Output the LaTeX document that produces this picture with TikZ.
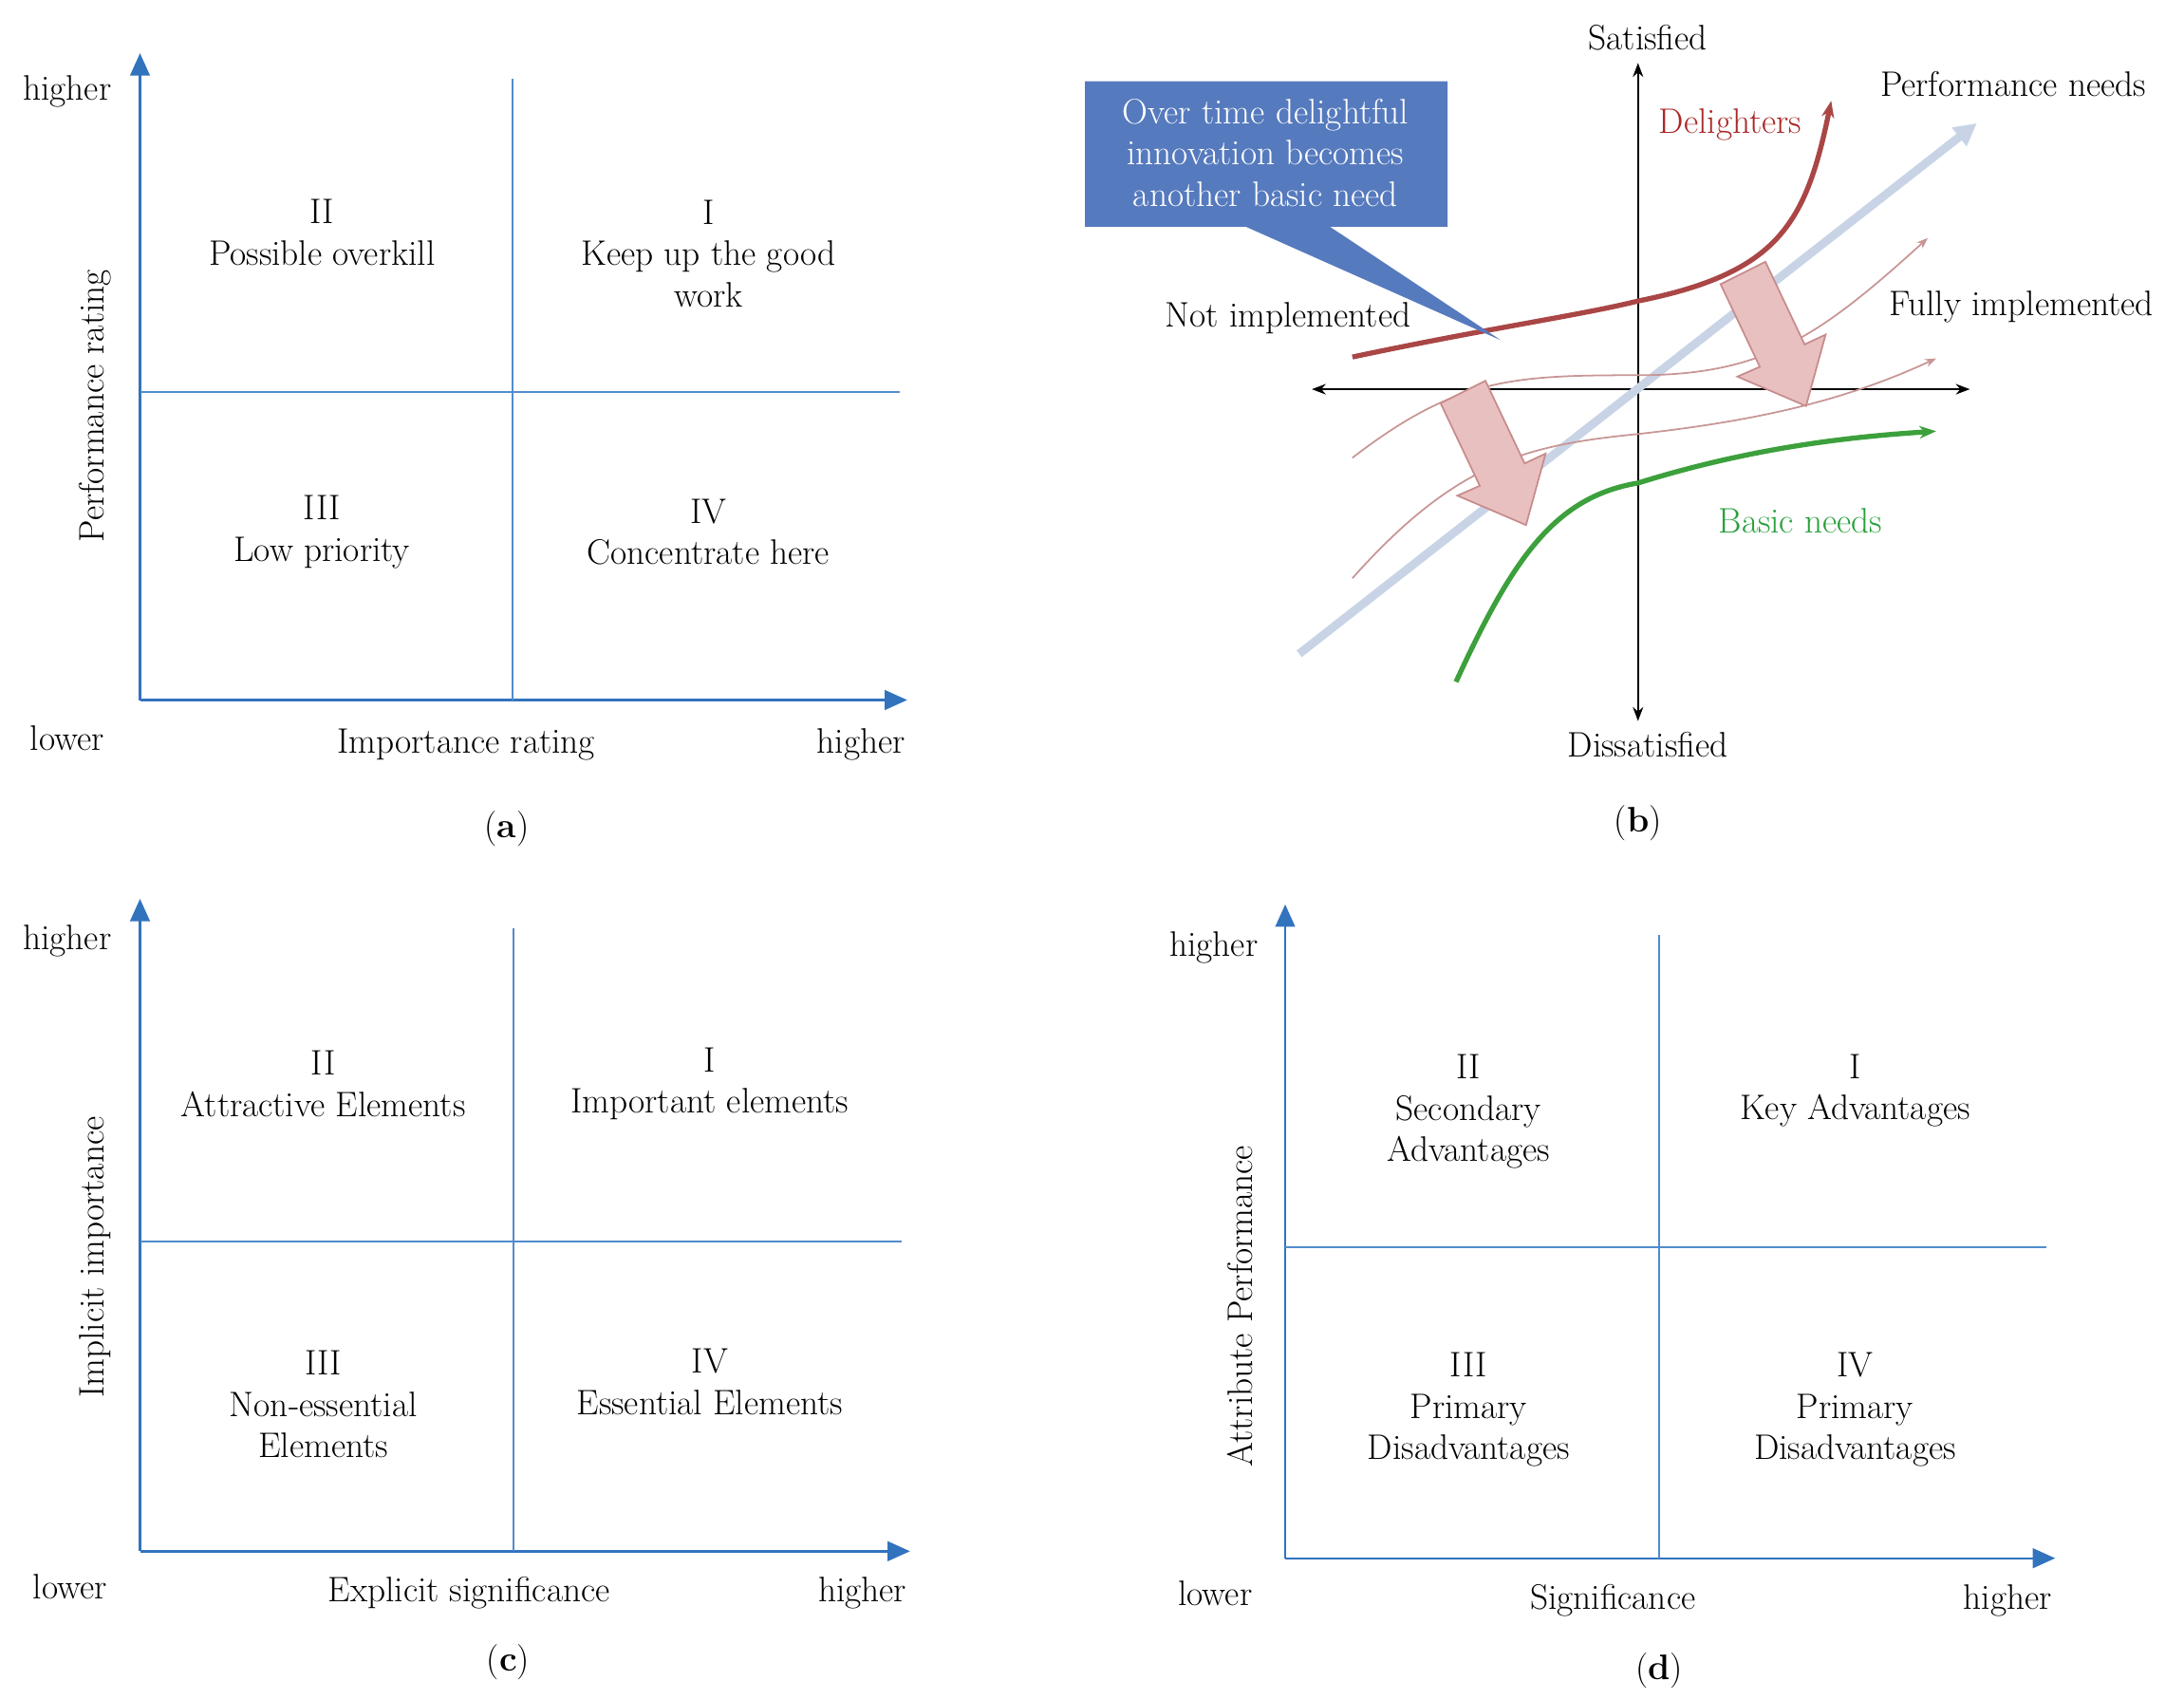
\documentclass[tikz,border=0pt]{standalone}
\usetikzlibrary{arrows.meta}
\definecolor{axb}{RGB}{50,115,190}
\definecolor{qdb}{RGB}{80,140,205}
\definecolor{pkd}{RGB}{200,140,140}
\definecolor{pkf}{RGB}{232,192,192}
\definecolor{pfl}{RGB}{200,212,230}
\definecolor{thn}{RGB}{200,150,150}
\definecolor{dlr}{RGB}{170,70,70}
\definecolor{bsg}{RGB}{60,160,60}
\definecolor{clb}{RGB}{86,122,190}
\definecolor{dlt}{RGB}{170,40,40}
\definecolor{bst}{RGB}{40,160,60}
\begin{document}
\begin{tikzpicture}[x=0.25mm,y=-0.25mm,
 every node/.style={font=\fontsize{18}{21}\selectfont,align=center},
 ax/.style={draw=axb,line width=0.4mm,-{Triangle[length=4mm,width=3.5mm]}},
 qd/.style={draw=qdb,line width=0.3mm},
 big/.style={draw=pkd,fill=pkf,line width=0.3mm}]
\useasboundingbox (0,0) rectangle (1560,1213);
% panel a
\draw[ax] (100,500) coordinate(a0) -- (100,38) coordinate(ay);
\draw[ax] (a0) -- (648,500) coordinate(ax);
\draw[qd] (366,56) coordinate(av1) -- (366,500) coordinate(av2);
\draw[qd] (100,280) coordinate(ah1) -- (643,280) coordinate(ah2);
\node (ahi) at (48,65) {higher};
\node (alo) at (48,527) {lower};
\node (ahx) at (615,532) {higher};
\node (axl) at (333,532) {Importance rating};
\node[rotate=90] (ayl) at (68,290) {Performance rating};
\node (a2) at (230,166) {II\\Possible overkill};
\node (a1) at (506,181) {I\\Keep up the good\\work};
\node (a3) at (230,380) {III\\Low priority};
\node (a4) at (506,380) {IV\\Concentrate here};
\node (acap) at (362,592) {(\textbf{a})};
% panel c
\draw[ax] (100,1108) coordinate(c0) -- (100,642) coordinate(cy);
\draw[ax] (c0) -- (650,1108) coordinate(cx);
\draw[qd] (367,663) coordinate(cv1) -- (367,1108) coordinate(cv2);
\draw[qd] (100,887) coordinate(ch1) -- (644,887) coordinate(ch2);
\node (chi) at (48,672) {higher};
\node (clo) at (50,1133) {lower};
\node (chx) at (616,1138) {higher};
\node (cxl) at (335,1138) {Explicit significance};
\node[rotate=90] (cyl) at (68,898) {Implicit importance};
\node (c2) at (231,774) {II\\Attractive Elements};
\node (c1) at (507,774) {I\\Important elements};
\node (c3) at (231,1003) {III\\Non-essential\\Elements};
\node (c4) at (507,987) {IV\\Essential Elements};
\node (ccap) at (363,1187) {(\textbf{c})};
% panel d
\draw[ax] (918,1113) coordinate(d0) -- (918,646) coordinate(dy);
\draw[ax] (d0) -- (1468,1113) coordinate(dx);
\draw[qd] (1185,668) coordinate(dv1) -- (1185,1113) coordinate(dv2);
\draw[qd] (918,891) coordinate(dh1) -- (1462,891) coordinate(dh2);
\node (dhi) at (867,677) {higher};
\node (dlo) at (868,1138) {lower};
\node (dhx) at (1434,1143) {higher};
\node (dxl) at (1152,1143) {Significance};
\node[rotate=90] (dyl) at (886,933) {Attribute Performance};
\node (d2) at (1049,794) {II\\Secondary\\Advantages};
\node (d1) at (1325,779) {I\\Key Advantages};
\node (d3) at (1049,1007) {III\\Primary\\Disadvantages};
\node (d4) at (1325,1007) {IV\\Primary\\Disadvantages};
\node (dcap) at (1185,1193) {(\textbf{d})};
% panel b
\draw[{Stealth[length=2.5mm]}-{Stealth[length=2.5mm]},line width=0.3mm] (937,278) coordinate(bl) -- (1407,278) coordinate(br);
\draw[{Stealth[length=2.5mm]}-{Stealth[length=2.5mm]},line width=0.3mm] (1170,515) coordinate(bb) -- (1170,45) coordinate(bt);
\draw[line width=1.5mm,draw=pfl,-{Triangle[length=4mm,width=4mm]}] (928,467) coordinate(p0) -- (1412,88) coordinate(p1);
\draw[line width=0.3mm,draw=thn,-{Stealth[length=2mm]}] (966,327) .. controls (1040,270) and (1080,268) .. (1170,268) .. controls (1260,268) and (1300,240) .. (1377,170);
\draw[line width=0.3mm,draw=thn,-{Stealth[length=2mm]}] (966,413) .. controls (1040,330) and (1090,318) .. (1170,310) .. controls (1260,300) and (1320,285) .. (1383,256);
\draw[line width=0.9mm,draw=dlr,-{Stealth[length=3mm]}] (966,255) .. controls (1060,235) and (1130,225) .. (1170,215) .. controls (1270,195) and (1290,160) .. (1308,72);
\draw[line width=0.9mm,draw=bsg,-{Stealth[length=3mm]}] (1040,487) .. controls (1080,400) and (1110,355) .. (1170,345) .. controls (1250,320) and (1320,312) .. (1383,308);
\draw[big] (1061,272) -- (1089,331) -- (1104,324) -- (1090,375) -- (1041,354) -- (1057,347) -- (1029,288) -- cycle;
\begin{scope}[shift={(200,-85)}]
\draw[big] (1061,272) -- (1089,331) -- (1104,324) -- (1090,375) -- (1041,354) -- (1057,347) -- (1029,288) -- cycle;
\end{scope}
\fill[clb] (775,58) -- (1034,58) -- (1034,162) -- (950,162) -- (1072,243) -- (890,162) -- (775,162) -- cycle;
\node[text=white] (call) at (904,109) {Over time delightful\\innovation becomes\\another basic need};
\coordinate (tip) at (1072,243);
\node (sat) at (1177,27) {Satisfied};
\node (dis) at (1177,532) {Dissatisfied};
\node (perf) at (1438,60) {Performance needs};
\node (full) at (1444,219) {Fully implemented};
\node (noti) at (920,227) {Not implemented};
\node[text=dlt] (del) at (1236,89) {Delighters};
\node[text=bst] (bas) at (1286,372) {Basic needs};
\node (bcap) at (1170,588) {(\textbf{b})};
\end{tikzpicture}
\end{document}
